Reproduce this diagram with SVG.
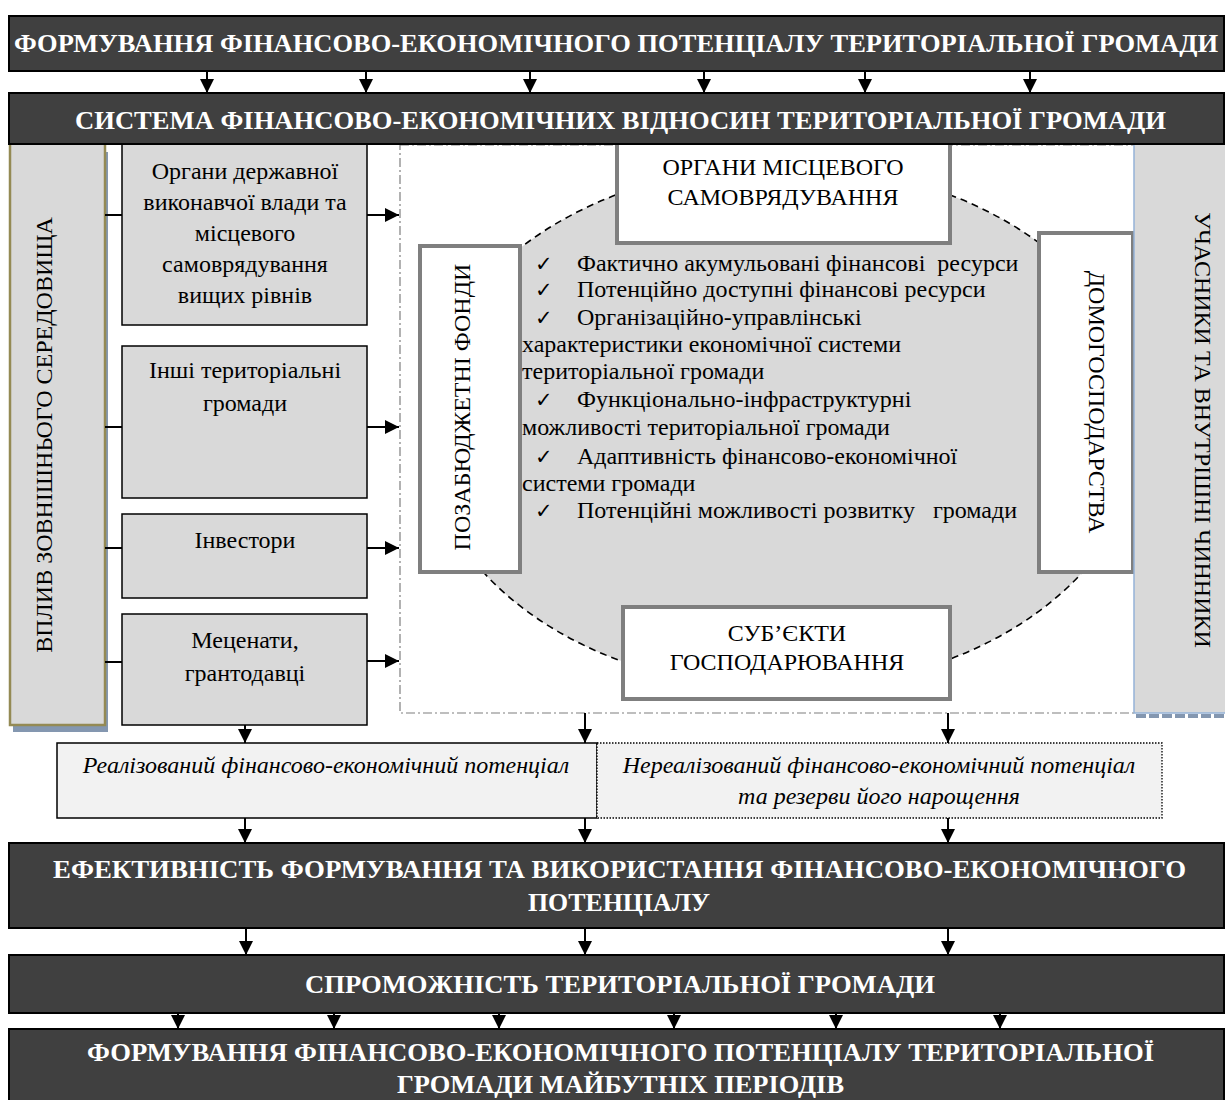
<svg xmlns="http://www.w3.org/2000/svg" width="1225" height="1100" viewBox="0 0 1225 1100">
<defs>
<marker id="ah" markerUnits="userSpaceOnUse" markerWidth="14" markerHeight="14" refX="14" refY="7" orient="auto"><path d="M0,0 L14,7 L0,14 z" fill="#000"/></marker>
<style>
.t{font-family:"Liberation Serif","Times New Roman",serif;font-size:24px;fill:#000}
.c{text-anchor:middle}
.bt{font-family:"Liberation Serif","Times New Roman",serif;font-size:25px;font-weight:bold;fill:#fff}
.it{font-family:"Liberation Serif","Times New Roman",serif;font-size:24px;font-style:italic;fill:#000;text-anchor:middle}
.ban{fill:#404040;stroke:#000;stroke-width:2}
.gb{fill:#d9d9d9;stroke:#000;stroke-width:1.5}
.wb{fill:#fff;stroke:#7f7f7f;stroke-width:4}
.ar{stroke:#000;stroke-width:2;fill:none;marker-end:url(#ah)}
.ln{stroke:#000;stroke-width:2;fill:none}
.ck{font-family:"DejaVu Sans",sans-serif;font-size:21px;fill:#000}
</style>
</defs>
<rect width="1225" height="1100" fill="#fff"/>

<g id="region">
<rect x="400" y="145" width="735" height="568" fill="none" stroke="#7f7f7f" stroke-width="1.2" stroke-dasharray="9 3 2 3"/>
<ellipse cx="783" cy="427" rx="360" ry="262" fill="#d9d9d9" stroke="#000" stroke-width="1.6" stroke-dasharray="7 5"/>
</g>

<g id="checklist">
<text class="ck" x="535" y="271">✓</text>
<text class="ck" x="535" y="297">✓</text>
<text class="ck" x="535" y="325">✓</text>
<text class="ck" x="535" y="407">✓</text>
<text class="ck" x="535" y="464">✓</text>
<text class="ck" x="535" y="518">✓</text>
<text class="t" x="577" y="271" xml:space="preserve">Фактично акумульовані фінансові  ресурси</text>
<text class="t" x="577" y="297">Потенційно доступні фінансові ресурси</text>
<text class="t" x="577" y="325">Організаційно-управлінські</text>
<text class="t" x="522" y="352">характеристики економічної системи</text>
<text class="t" x="522" y="379">територіальної громади</text>
<text class="t" x="577" y="407">Функціонально-інфраструктурні</text>
<text class="t" x="522" y="435">можливості територіальної громади</text>
<text class="t" x="577" y="464">Адаптивність фінансово-економічної</text>
<text class="t" x="522" y="491">системи громади</text>
<text class="t" x="577" y="518" xml:space="preserve">Потенційні можливості розвитку   громади</text>
</g>

<g id="organy-ms">
<rect class="wb" x="617" y="140" width="333" height="103"/>
<text class="t c" x="783" y="175">ОРГАНИ МІСЦЕВОГО</text>
<text class="t c" x="783" y="205">САМОВРЯДУВАННЯ</text>
</g>
<g id="pozabudzhetni">
<rect class="wb" x="420" y="246" width="100" height="326"/>
<text class="t c" transform="translate(462,407) rotate(-90)" x="0" y="8">ПОЗАБЮДЖЕТНІ ФОНДИ</text>
</g>
<g id="domogospodarstva">
<rect class="wb" x="1039" y="233" width="94" height="339"/>
<text class="t c" transform="translate(1097,402) rotate(90)" x="0" y="8">ДОМОГОСПОДАРСТВА</text>
</g>
<g id="subiekty">
<rect class="wb" x="623" y="607" width="327" height="92"/>
<text class="t c" x="787" y="641">СУБ’ЄКТИ</text>
<text class="t c" x="787" y="670">ГОСПОДАРЮВАННЯ</text>
</g>

<g id="uchasnyky">
<line x1="1136" y1="716" x2="1225" y2="716" stroke="#8497b0" stroke-width="4" stroke-dasharray="10 3"/>
<rect x="1134" y="140" width="100" height="573" fill="#d9d9d9" stroke="#95b3d7" stroke-width="1.5"/>
<text class="t c" transform="translate(1203,430) rotate(90)" x="0" y="8">УЧАСНИКИ ТА ВНУТРІШНІ ЧИННИКИ</text>
</g>

<g id="vplyv">
<rect x="13" y="152" width="95" height="580" fill="#8497b0"/>
<rect x="10" y="140" width="95" height="585" fill="#d9d9d9" stroke="#948a54" stroke-width="2.5"/>
<text class="t c" transform="translate(44,435) rotate(-90)" x="0" y="8">ВПЛИВ ЗОВНІШНЬОГО СЕРЕДОВИЩА</text>
</g>

<g id="organy-dv">
<rect class="gb" x="122" y="140" width="245" height="185"/>
<text class="t c" x="245" y="179">Органи державної</text>
<text class="t c" x="245" y="210">виконавчої влади та</text>
<text class="t c" x="245" y="241">місцевого</text>
<text class="t c" x="245" y="272">самоврядування</text>
<text class="t c" x="245" y="303">вищих рівнів</text>
</g>
<g id="inshi">
<rect class="gb" x="122" y="346" width="245" height="152"/>
<text class="t c" x="245" y="378">Інші територіальні</text>
<text class="t c" x="245" y="411">громади</text>
</g>
<g id="investory">
<rect class="gb" x="122" y="514" width="245" height="84"/>
<text class="t c" x="245" y="548">Інвестори</text>
</g>
<g id="metsenaty">
<rect class="gb" x="122" y="614" width="245" height="111"/>
<text class="t c" x="245" y="648">Меценати,</text>
<text class="t c" x="245" y="681">грантодавці</text>
</g>

<g id="banner-formuvannia">
<rect class="ban" x="9" y="16" width="1215" height="55"/>
<text class="bt" x="14" y="52" textLength="1204" lengthAdjust="spacingAndGlyphs">ФОРМУВАННЯ ФІНАНСОВО-ЕКОНОМІЧНОГО ПОТЕНЦІАЛУ ТЕРИТОРІАЛЬНОЇ ГРОМАДИ</text>
</g>
<g id="banner-systema">
<rect class="ban" x="9" y="93" width="1215" height="51"/>
<text class="bt" x="75" y="129" textLength="1091" lengthAdjust="spacingAndGlyphs">СИСТЕМА ФІНАНСОВО-ЕКОНОМІЧНИХ ВІДНОСИН ТЕРИТОРІАЛЬНОЇ ГРОМАДИ</text>
</g>

<g id="realizovanyi">
<rect x="57" y="743" width="540" height="75" fill="#f2f2f2" stroke="#000" stroke-width="1.5"/>
<text class="it" x="326" y="773">Реалізований фінансово-економічний потенціал</text>
</g>
<g id="nerealizovanyi">
<rect x="597" y="743" width="565" height="75" fill="#f2f2f2" stroke="#000" stroke-width="1.3" stroke-dasharray="1.5 1.5"/>
<text class="it" x="879" y="773">Нереалізований фінансово-економічний потенціал</text>
<text class="it" x="879" y="804">та резерви його нарощення</text>
</g>

<g id="banner-efektyvnist">
<rect class="ban" x="9" y="843" width="1215" height="85"/>
<text class="bt" x="53" y="878" textLength="1133" lengthAdjust="spacingAndGlyphs">ЕФЕКТИВНІСТЬ ФОРМУВАННЯ ТА ВИКОРИСТАННЯ ФІНАНСОВО-ЕКОНОМІЧНОГО</text>
<text class="bt" x="528" y="911" textLength="182" lengthAdjust="spacingAndGlyphs">ПОТЕНЦІАЛУ</text>
</g>
<g id="banner-spromozhnist">
<rect class="ban" x="9" y="955" width="1215" height="58"/>
<text class="bt" x="305" y="993" textLength="630" lengthAdjust="spacingAndGlyphs">СПРОМОЖНІСТЬ ТЕРИТОРІАЛЬНОЇ ГРОМАДИ</text>
</g>
<g id="banner-maibutni">
<rect class="ban" x="9" y="1029" width="1215" height="90"/>
<text class="bt" x="87" y="1061" textLength="1067" lengthAdjust="spacingAndGlyphs">ФОРМУВАННЯ ФІНАНСОВО-ЕКОНОМІЧНОГО ПОТЕНЦІАЛУ ТЕРИТОРІАЛЬНОЇ</text>
<text class="bt" x="397" y="1093" textLength="447" lengthAdjust="spacingAndGlyphs">ГРОМАДИ МАЙБУТНІХ ПЕРІОДІВ</text>
</g>

<g id="connectors">
<line class="ar" x1="207" y1="71" x2="207" y2="93"/>
<line class="ar" x1="366" y1="71" x2="366" y2="93"/>
<line class="ar" x1="530" y1="71" x2="530" y2="93"/>
<line class="ar" x1="704" y1="71" x2="704" y2="93"/>
<line class="ar" x1="865" y1="71" x2="865" y2="93"/>
<line class="ar" x1="1030" y1="71" x2="1030" y2="93"/>
<line class="ln" x1="105" y1="215" x2="122" y2="215"/>
<line class="ln" x1="105" y1="427" x2="122" y2="427"/>
<line class="ln" x1="105" y1="548" x2="122" y2="548"/>
<line class="ln" x1="105" y1="662" x2="122" y2="662"/>
<line class="ar" x1="367" y1="215" x2="399" y2="215"/>
<line class="ar" x1="367" y1="427" x2="399" y2="427"/>
<line class="ar" x1="367" y1="548" x2="399" y2="548"/>
<line class="ar" x1="367" y1="661" x2="399" y2="661"/>
<line class="ar" x1="245" y1="725" x2="245" y2="743"/>
<line class="ar" x1="585" y1="713" x2="585" y2="743"/>
<line class="ar" x1="948" y1="713" x2="948" y2="743"/>
<line class="ar" x1="245" y1="818" x2="245" y2="843"/>
<line class="ar" x1="585" y1="818" x2="585" y2="843"/>
<line class="ar" x1="948" y1="818" x2="948" y2="843"/>
<line class="ar" x1="246" y1="928" x2="246" y2="955"/>
<line class="ar" x1="585" y1="928" x2="585" y2="955"/>
<line class="ar" x1="948" y1="928" x2="948" y2="955"/>
<line class="ar" x1="178" y1="1013" x2="178" y2="1029"/>
<line class="ar" x1="334" y1="1013" x2="334" y2="1029"/>
<line class="ar" x1="499" y1="1013" x2="499" y2="1029"/>
<line class="ar" x1="674" y1="1013" x2="674" y2="1029"/>
<line class="ar" x1="836" y1="1013" x2="836" y2="1029"/>
<line class="ar" x1="1000" y1="1013" x2="1000" y2="1029"/>
</g>
</svg>
